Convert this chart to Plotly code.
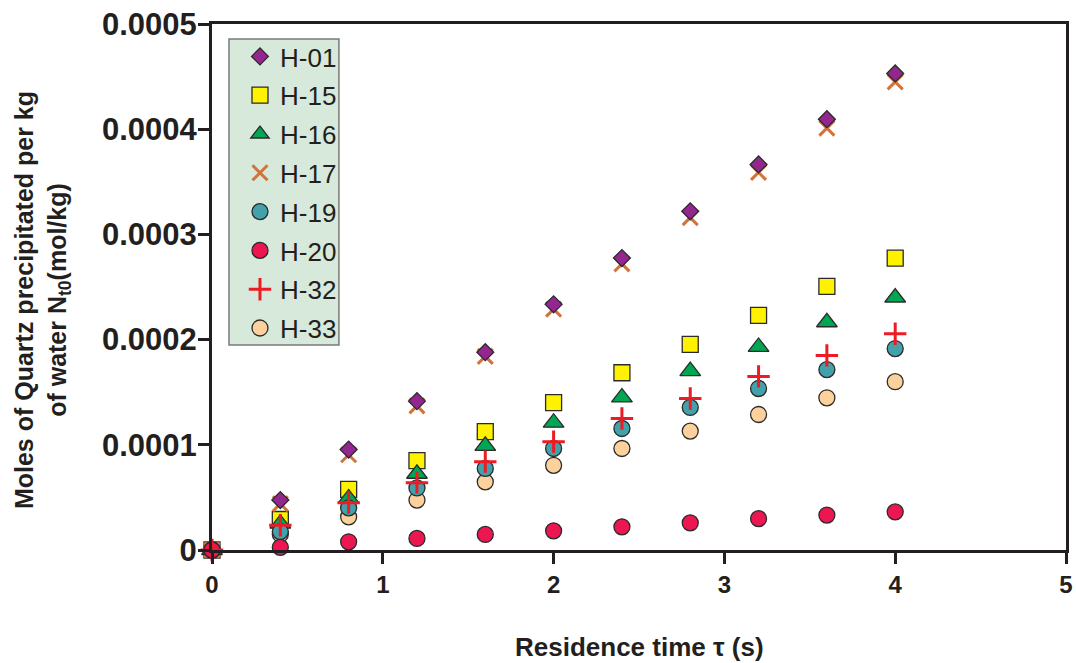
import plotly.graph_objects as go

# Residence time (s)
tau = [0, 0.4, 0.8, 1.2, 1.6, 2.0, 2.4, 2.8, 3.2, 3.6, 4.0]

# Moles of quartz precipitated per kg of water (mol/kg)
h01 = [0, 0.0000475, 0.0000955, 0.0001415, 0.0001880, 0.0002335, 0.0002775, 0.0003220, 0.0003665, 0.0004095, 0.0004530]
h15 = [0, 0.0000290, 0.0000577, 0.0000850, 0.0001125, 0.0001400, 0.0001685, 0.0001955, 0.0002230, 0.0002505, 0.0002775]
h16 = [0, 0.0000250, 0.0000490, 0.0000725, 0.0000990, 0.0001210, 0.0001450, 0.0001700, 0.0001930, 0.0002165, 0.0002400]
h17 = [0, 0.0000440, 0.0000905, 0.0001370, 0.0001840, 0.0002290, 0.0002720, 0.0003160, 0.0003590, 0.0004010, 0.0004450]
h19 = [0, 0.0000175, 0.0000400, 0.0000590, 0.0000775, 0.0000965, 0.0001155, 0.0001355, 0.0001535, 0.0001715, 0.0001915]
h20 = [0, 0.0000025, 0.0000078, 0.0000110, 0.0000148, 0.0000182, 0.0000220, 0.0000258, 0.0000298, 0.0000332, 0.0000362]
h32 = [0, 0.0000235, 0.0000450, 0.0000640, 0.0000840, 0.0001030, 0.0001250, 0.0001440, 0.0001650, 0.0001850, 0.0002055]
h33 = [0, 0.0000150, 0.0000315, 0.0000475, 0.0000648, 0.0000805, 0.0000965, 0.0001130, 0.0001288, 0.0001447, 0.0001600]

y_ticks = [0, 0.0001, 0.0002, 0.0003, 0.0004, 0.0005]
y_tick_text = ["0", "0.0001", "0.0002", "0.0003", "0.0004", "0.0005"]
x_ticks = [0, 1, 2, 3, 4, 5]

FONT = "Arial, 'Liberation Sans', sans-serif"
INK = "#231f20"
EDGE = dict(color="#2b2b2b", width=1.3)

# (name, values, symbol, size, fill, outline, legend position)
# listed in drawing order, bottom to top
series = [
    ("H-15", h15, "square", 16, "#fff200", EDGE, 2),
    ("H-16", h16, "triangle-up", 18, "#00a651", EDGE, 3),
    ("H-17", h17, "x-thin-open", 15, "#d2733a", dict(color="#d2733a", width=3), 4),
    ("H-01", h01, "diamond", 13, "#93278f", EDGE, 1),
    ("H-33", h33, "circle", 16, "#fdd19c", EDGE, 8),
    ("H-19", h19, "circle", 16, "#43a1ab", EDGE, 5),
    ("H-20", h20, "circle", 16, "#ec1651", EDGE, 6),
    ("H-32", h32, "cross-thin-open", 16, "#ed1c24", dict(color="#ed1c24", width=3), 7),
]

fig = go.Figure()
for name, vals, sym, size, fill, line, rank in series:
    fig.add_trace(go.Scatter(
        x=tau, y=vals, mode="markers", name=name,
        legendgroup=name, legendrank=rank,
        cliponaxis=False,
        marker=dict(symbol=sym, size=size, color=fill, line=line),
    ))

L, R, T, B = 212, 9.5, 24, 113
W, H = 1076, 663
pw, ph = W - L - R, H - T - B


def px_x(p):
    return (p - L) / pw


def px_y(p):
    return (H - B - p) / ph


axis_common = dict(
    showline=True, linewidth=3, linecolor=INK, mirror=True,
    ticks="outside", ticklen=11, tickwidth=3, tickcolor=INK,
    showgrid=False, zeroline=False,
)

fig.update_xaxes(
    range=[0, 5], tickvals=x_ticks,
    tickfont=dict(family=FONT, size=24, color=INK, weight="bold"),
    **axis_common,
)
fig.update_yaxes(
    range=[0, 0.0005], tickvals=y_ticks, ticktext=y_tick_text,
    tickfont=dict(family=FONT, size=31, color=INK, weight="bold"),
    ticklabelstandoff=-5,
    **axis_common,
)

fig.add_annotation(
    text="Moles of Quartz precipitated per kg<br>of water N<sub>t0</sub>(mol/kg)",
    xref="paper", yref="paper", x=px_x(42), y=px_y(300),
    showarrow=False, textangle=-90, xanchor="center", yanchor="middle",
    font=dict(family=FONT, size=25, color=INK, weight="bold"),
)
fig.add_annotation(
    text="Residence time τ (s)",
    xref="paper", yref="paper", x=px_x(640), y=px_y(647),
    showarrow=False, xanchor="center", yanchor="middle",
    font=dict(family=FONT, size=26, color=INK, weight="bold"),
)

# legend panel
fig.add_shape(
    type="rect", xref="paper", yref="paper",
    x0=px_x(229), x1=px_x(339), y0=px_y(345), y1=px_y(39),
    fillcolor="#d7e9da", line=dict(color="#7a7a7a", width=1.5), layer="below",
)

fig.update_layout(
    width=W, height=H,
    margin=dict(l=L, r=R, t=T, b=B, autoexpand=False),
    paper_bgcolor="white", plot_bgcolor="white",
    showlegend=True,
    legend=dict(
        x=px_x(240), y=px_y(33), xanchor="left", yanchor="top",
        bgcolor="rgba(0,0,0,0)", borderwidth=0,
        font=dict(family=FONT, size=26, color=INK),
        tracegroupgap=2,
    ),
)

fig.write_html("out.html")
